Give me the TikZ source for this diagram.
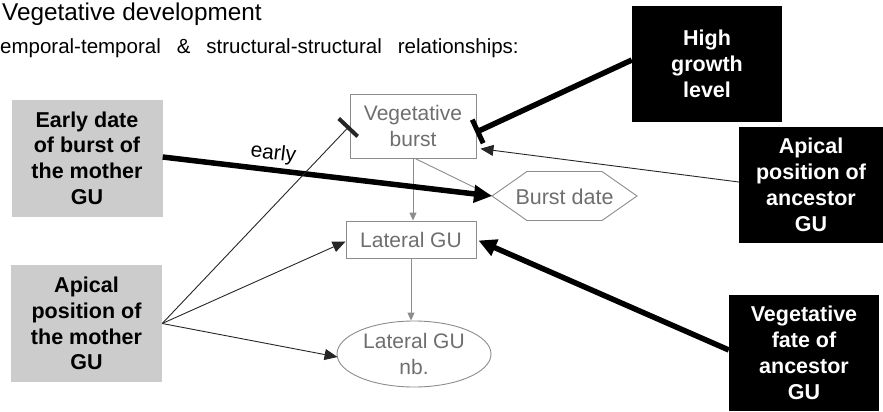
\documentclass[tikz,border=0pt]{standalone}
\usepackage{fontspec}
\setmainfont{Liberation Sans}
\usetikzlibrary{arrows.meta,calc,shapes.geometric}
\definecolor{boxgray}{RGB}{204,204,204}
\definecolor{linegray}{RGB}{140,140,140}
\definecolor{textgray}{RGB}{110,110,110}
\begin{document}
\begin{tikzpicture}[x=1pt,y=-1pt,
  greybox/.style={fill=boxgray, draw=none, minimum width=151pt, minimum height=117pt, align=center, font=\fontsize{21.5}{25.7}\selectfont\bfseries, text=black, inner sep=0pt},
  blackbox/.style={fill=black, draw=none, minimum width=150pt, minimum height=116pt, align=center, font=\fontsize{21.5}{26}\selectfont\bfseries, text=white, inner sep=0pt},
  varbox/.style={draw=linegray, line width=0.9pt, align=center, text=textgray, font=\fontsize{21}{26.5}\selectfont, inner sep=0pt},
  thin/.style={line width=0.9pt, draw=black!85, -{Triangle[length=13pt,width=11pt]}},
  thick/.style={line width=5.5pt, -{Triangle[length=18pt,width=17pt]}},
  greyarr/.style={line width=0.9pt, draw=linegray, -{Triangle[length=8pt,width=7pt]}, color=linegray},
]
\useasboundingbox (0,0) rectangle (883,412);

% titles
\node[anchor=base west, inner sep=0pt, font=\fontsize{24.3}{28}\selectfont] (title) at (2,21) {Vegetative development};
\node[anchor=base west, inner sep=0pt, font=\fontsize{20.5}{24}\selectfont] (subtitle) at (0,54) {emporal-temporal\hspace{16pt}\&\hspace{16pt}structural-structural\hspace{16pt}relationships:};

% left factors
\node[greybox] (early) at (87,158) {Early date\\of burst of\\the mother\\GU};
\node[greybox] (apm) at (86.5,323.5) {Apical\\position of\\the mother\\GU};

% right factors
\node[blackbox] (hg) at (707,64) {High\\growth\\level};
\node[blackbox, minimum width=144pt] (apa) at (811,185) {Apical\\position of\\ancestor\\GU};
\node[blackbox] (vf) at (804,353) {Vegetative\\fate of\\ancestor\\GU};

% variables
\node[varbox, minimum width=126pt, minimum height=64pt] (vb) at (413,126) {Vegetative\\burst};
\node[varbox, minimum width=130pt, minimum height=37pt] (lg) at (411,239.5) {Lateral GU};
\node[varbox, ellipse, minimum width=154pt, minimum height=66pt] (lgn) at (414,354) {Lateral GU\\nb.};
\node[text=textgray, font=\fontsize{21.5}{26.5}\selectfont, inner sep=0pt] (bd) at (564.5,197) {Burst date};
\coordinate (bdW) at (492,196);
\draw[linegray, line width=0.9pt] (bdW) -- ++(35,-24.5) -- ++(75,0) -- ++(35,24.5) -- ++(-35,24.5) -- ++(-75,0) -- cycle;

% grey internal arrows
\draw[greyarr] (vb.south) -- (vb.south |- lg.north);
\draw[greyarr] (lg.south) -- (lg.south |- lgn.north);
\draw[line width=0.9pt, linegray] ($(vb.south)+(2,0)$) -- (bdW);

% left connectors
\draw[thick] (early.east |- 0,157) -- (bdW) node[pos=0.33, above=0pt, sloped, font=\fontsize{21}{24}\selectfont, text=black] {early};
\draw[line width=0.9pt, draw=black!85, -{Bar[width=26pt, line width=4pt]}] (apm.east) -- ($(vb.north west)!0.5!(vb.south west)$);
\draw[thin] (apm.east) -- ($(lg.west)+(0,2)$);
\draw[thin] (apm.east) -- ($(lgn.west)+(1,3)$);

% right connectors
\draw[line width=5.5pt, -{Bar[width=26pt, line width=5pt]}] ($(hg.west)+(0,-4)$) -- ($(vb.north east)!0.6!(vb.south east)+(-1,0)$);
\draw[thin] ($(apa.west)+(0,-3)$) -- ($(vb.north east)!0.85!(vb.south east)+(4,0)$);
\draw[thick] ($(vf.west)+(0,-3)$) -- ($(lg.east)+(2,1)$);
\end{tikzpicture}
\end{document}
